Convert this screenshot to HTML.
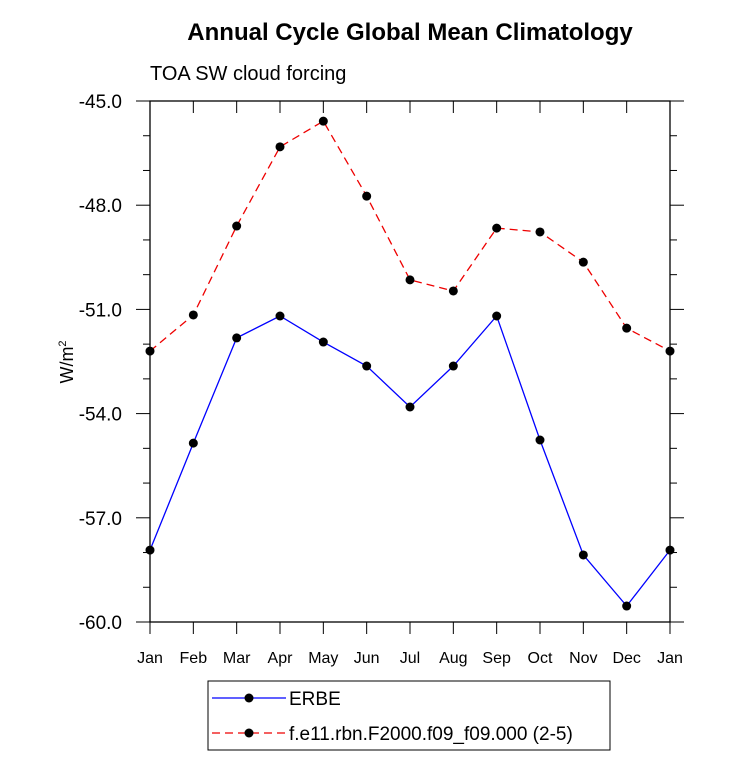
<!DOCTYPE html>
<html><head><meta charset="utf-8"><style>body{margin:0;background:#fff}svg{display:block;font-family:"Liberation Sans",Arial,sans-serif}</style></head>
<body>
<svg id="chart" width="733" height="772" xmlns="http://www.w3.org/2000/svg"></svg>
<script>
const months=["Jan","Feb","Mar","Apr","May","Jun","Jul","Aug","Sep","Oct","Nov","Dec","Jan"];
const erbe=[-57.93,-54.85,-51.82,-51.19,-51.94,-52.63,-53.81,-52.63,-51.19,-54.76,-58.07,-59.54,-57.93];
const model=[-52.2,-51.16,-48.6,-46.32,-45.58,-47.74,-50.15,-50.47,-48.66,-48.77,-49.64,-51.54,-52.2];
const yTicks=[-45,-48,-51,-54,-57,-60];
const yTickLabels=["-45.0","-48.0","-51.0","-54.0","-57.0","-60.0"];
const X0=150,X1=670,Y0=101,Y1=622;
const xs=i=>X0+(X1-X0)*i/(months.length-1);
const ys=v=>Y0+(Y1-Y0)*(-45-v)/15;
const svg=document.getElementById('chart');
const NS="http://www.w3.org/2000/svg";
function el(tag,attrs,parent){const e=document.createElementNS(NS,tag);for(const k in attrs)e.setAttribute(k,attrs[k]);(parent||svg).appendChild(e);return e;}
let t=el('text',{x:410,y:40,'text-anchor':'middle','font-size':24,'font-weight':'bold'});t.textContent="Annual Cycle Global Mean Climatology";


t=el('text',{x:150,y:80,'font-size':20});t.textContent="TOA SW cloud forcing";


const frame=el('rect',{x:X0,y:Y0,width:X1-X0,height:Y1-Y0,fill:'none',stroke:'#000','stroke-width':1.3});


for(let v=-45;v>=-60;v-=1){const y=ys(v);const major=(v%3===0);const L=major?14:7;
 el('line',{x1:X0-L,y1:y,x2:X0,y2:y,stroke:'#000'});el('line',{x1:X1,y1:y,x2:X1+L,y2:y,stroke:'#000'});}
yTicks.forEach((v,i)=>{const tx=el('text',{x:X0-28,y:ys(v)+7,'text-anchor':'end','font-size':19});tx.textContent=yTickLabels[i];
 
 });
months.forEach((m,i)=>{const x=xs(i);el('line',{x1:x,y1:Y1,x2:x,y2:Y1+12,stroke:'#000'});el('line',{x1:x,y1:Y0,x2:x,y2:Y0+12,stroke:'#000'});
 const tx=el('text',{x:x,y:663,'text-anchor':'middle','font-size':16});tx.textContent=m;
 
 });
t=el('text',{x:0,y:0,'font-size':18,transform:'translate(73,362) rotate(-90)','text-anchor':'middle'});t.innerHTML='W/m<tspan dy="-7" font-size="11">2</tspan>';


function series(vals,color,dash,name){const p=el('polyline',{points:vals.map((v,i)=>xs(i)+','+ys(v)).join(' '),fill:'none',stroke:color,'stroke-width':1.3,'stroke-dasharray':dash});
 
 
 vals.forEach((v,i)=>{const c=el('circle',{cx:xs(i),cy:ys(v),r:4.5,fill:'#000'});
  
  });}
series(model,'#e00','8,5','model');
series(erbe,'#00f','none','erbe');
const lg=el('g',{});


el('rect',{x:208,y:681,width:402,height:69,fill:'#fff',stroke:'#000','stroke-width':1},lg);
el('line',{x1:212,y1:698,x2:286,y2:698,stroke:'#00f','stroke-width':1.3},lg);
el('circle',{cx:249,cy:698,r:4.5,fill:'#000'},lg);
t=el('text',{x:289,y:705,'font-size':19},lg);t.textContent="ERBE";
el('line',{x1:212,y1:733,x2:286,y2:733,stroke:'#e00','stroke-width':1.3,'stroke-dasharray':'8,5'},lg);
el('circle',{cx:249,cy:733,r:4.5,fill:'#000'},lg);
t=el('text',{x:289,y:740,'font-size':19},lg);t.textContent="f.e11.rbn.F2000.f09_f09.000 (2-5)";
</script>
</body></html>
